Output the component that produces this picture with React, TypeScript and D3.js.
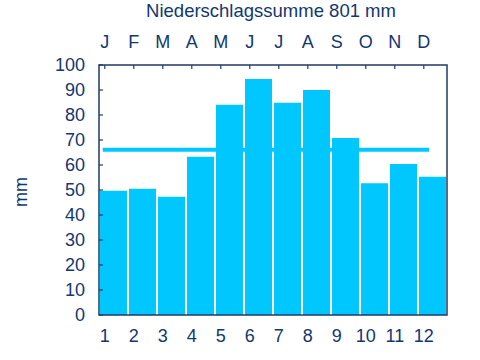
import React from 'react';
import * as d3 from 'd3';

const months = ['J', 'F', 'M', 'A', 'M', 'J', 'J', 'A', 'S', 'O', 'N', 'D'];
const monthNums = [1, 2, 3, 4, 5, 6, 7, 8, 9, 10, 11, 12];
const precip = [49.7, 50.5, 47.3, 63.3, 84.1, 94.4, 84.9, 90, 70.8, 52.7, 60.4, 55.3];
const mean = 66.1;
const yTicks = [0, 10, 20, 30, 40, 50, 60, 70, 80, 90, 100];
const title = 'Niederschlagssumme 801 mm';

const W = 480;
const H = 360;
const margin = { top: 65, right: 33, bottom: 45, left: 99 };
const textColor = '#12386e';
const barColor = '#00c8ff';
const font = '"Liberation Sans", Arial, sans-serif';

const App = () => {
  const x = d3.scaleLinear().domain([0.8, 12.8]).range([margin.left, W - margin.right]);
  const y = d3.scaleLinear().domain([0, 100]).range([H - margin.bottom, margin.top]);
  const cell = x(2) - x(1);

  return (
    <svg width={W} height={H} style={{ position: 'absolute', left: 0, top: 0 }} fontFamily={font}>
      <rect width={W} height={H} fill="#fff" />
      <text x={271} y={17} textAnchor="middle" fontSize={18.5} fill={textColor}>{title}</text>

      {/* bars */}
      {precip.map((v, i) => (
        <rect key={i}
          x={x(monthNums[i] - 0.2) + 1}
          y={y(v)}
          width={cell - 2}
          height={y(0) - y(v)}
          fill={barColor} />
      ))}

      {/* mean line */}
      <line x1={x(0.93)} x2={x(12.18)} y1={y(mean)} y2={y(mean)} stroke={barColor} strokeWidth={4} />

      {/* frame */}
      <rect x={margin.left} y={margin.top} width={W - margin.left - margin.right}
        height={H - margin.top - margin.bottom} fill="none" stroke="#1f3b66" strokeWidth={1.5} />

      {/* top ticks + month labels */}
      {monthNums.map((m, i) => (
        <g key={i}>
          <line x1={x(m)} x2={x(m)} y1={margin.top} y2={margin.top + 4} stroke="#1f3b66" strokeWidth={1.2} />
          <text x={x(m)} y={48} textAnchor="middle" fontSize={18} fill={textColor}>{months[i]}</text>
          <text x={x(m)} y={342} textAnchor="middle" fontSize={18} fill={textColor}>{m}</text>
        </g>
      ))}

      {/* y ticks */}
      {yTicks.map(t => (
        <g key={t}>
          <line x1={margin.left} x2={margin.left + 4} y1={y(t)} y2={y(t)} stroke="#1f3b66" strokeWidth={1.2} />
          <text x={85} y={y(t) + 6.3} textAnchor="end" fontSize={18} fill={textColor}>{t}</text>
        </g>
      ))}

      <text transform={`translate(27,192) rotate(-90)`}
        textAnchor="middle" fontSize={18} fill={textColor}>mm</text>
    </svg>
  );
};

export default App;
